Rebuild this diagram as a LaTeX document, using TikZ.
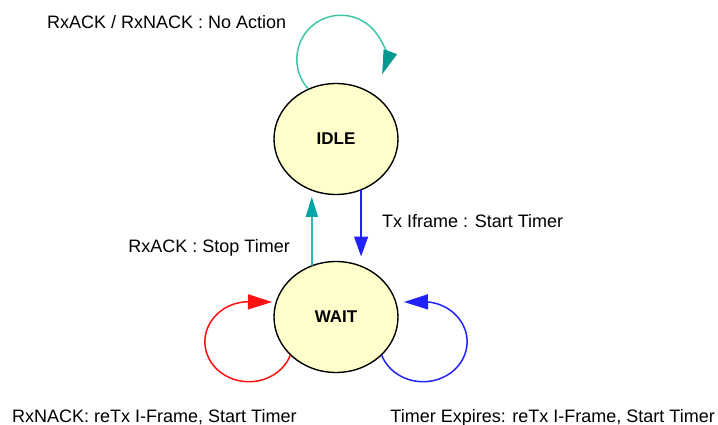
\documentclass[tikz,border=0pt]{standalone}
\usepackage{fontspec}
\setmainfont{Liberation Sans}
\usetikzlibrary{arrows.meta,shapes.geometric}

\definecolor{statefill}{HTML}{FFFFCC}
\definecolor{loopteal}{HTML}{3CC8A8}
\definecolor{loophead}{HTML}{00998F}
\definecolor{ackteal}{HTML}{33B5B5}
\definecolor{ackhead}{HTML}{00A5A5}
\definecolor{txblue}{HTML}{2222FF}
\definecolor{nackred}{HTML}{FF1111}

\tikzset{
  state/.style={ellipse,draw=black,line width=1.4pt,fill=statefill,minimum width=124pt,minimum height=111pt,inner sep=0pt,font=\fontsize{17}{20}\selectfont\bfseries},
  lbl/.style={inner sep=0pt,font=\fontsize{18}{20}\selectfont},
  trans/.style={line width=1.5pt},
}

\begin{document}
\begin{tikzpicture}[line cap=round,line join=round,x=1pt,y=1pt]
    \useasboundingbox (0,0) rectangle (718,-425);
    \node [state] (idle) at (336,-139) {IDLE};
    \node [state] (wait) at (336,-317) {WAIT};
    \coordinate (redtip) at (272,-302);
    \coordinate (bluetip) at (404,-302);
    \draw [trans,color=loopteal,-{Triangle[length=24pt,width=14pt,color=loophead]}] (idle.119) arc[start angle=222,end angle=-20,radius=44];
    \draw [trans,color=ackteal,shorten >=6pt,-{Triangle[length=20pt,width=12pt,color=ackhead]}] (wait.115) -- (idle.-115);
    \draw [trans,color=txblue,shorten >=9pt,-{Triangle[length=20pt,width=14pt]}] (idle.-64) -- (wait.64);
    \draw [trans,color=nackred,-{Triangle[length=24pt,width=15pt]}] (wait.220) arc[start angle=-20,end angle=-265,x radius=44,y radius=40] -- (redtip);
    \draw [trans,color=txblue,-{Triangle[length=24pt,width=15pt]}] (wait.-40) arc[start angle=200,end angle=445,x radius=44,y radius=40] -- (bluetip);
    \node [lbl,anchor=base west] (noaction) at (47,-29) {RxACK / RxNACK : No Action};
    \node [lbl,anchor=base west] (txiframe) at (382,-227) {Tx Iframe : Start Timer};
    \node [lbl,anchor=base east] (stoptimer) at (290,-252) {RxACK : Stop Timer};
    \node [lbl,anchor=base west] (nacklbl) at (12,-422) {RxNACK: reTx I-Frame, Start Timer};
    \node [lbl,anchor=base east] (expirelbl) at (715,-422) {Timer Expires: reTx I-Frame, Start Timer};
\end{tikzpicture}
\end{document}
